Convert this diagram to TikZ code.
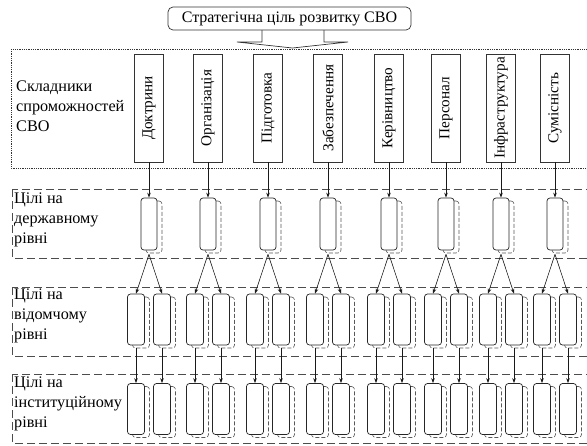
\documentclass[tikz,border=0pt]{standalone}
\usepackage{fontspec}
\setmainfont{Liberation Serif}
\usetikzlibrary{calc,shadows,arrows.meta}
\begin{document}
\begin{tikzpicture}[x=1pt,y=-1pt,
  goalbox/.style={draw=black!80, line width=0.7pt, rounded corners=5pt, minimum width=243pt, minimum height=23pt, inner sep=0pt, font=\fontsize{16}{19}\selectfont},
  compbox/.style={draw=black!80, line width=0.8pt, fill=white, minimum width=29pt, minimum height=108pt, inner sep=0pt, font=\fontsize{15.2}{18}\selectfont},
  goalshadow/.style={copy shadow={shadow xshift=5pt, shadow yshift=-3pt, draw=black!65, fill=white, dash pattern=on 4pt off 2pt, line width=0.6pt}},
  stbox/.style={draw=black!85, line width=0.7pt, fill=white, rounded corners=3pt, minimum width=16pt, minimum height=52pt, inner sep=0pt, goalshadow},
  smallbox/.style={draw=black!85, line width=0.7pt, fill=white, rounded corners=3pt, minimum width=17pt, minimum height=51pt, inner sep=0pt, goalshadow},
  lvllabel/.style={anchor=west, align=left, inner sep=0pt, font=\fontsize{16.2}{19.8}\selectfont},
  region/.style={draw=black!70, line width=0.9pt, dash pattern=on 8pt off 4pt},
  dotregion/.style={draw=black!80, line width=0.8pt, densely dotted},
  arr/.style={-{Stealth[length=5pt,width=3.5pt]}, line width=0.6pt, draw=black!90},
  blockarrow/.style={draw=black!80, line width=0.7pt}
]
\useasboundingbox (0,0) rectangle (587,445);
\clip (0,0) rectangle (587,445);

% regions
\draw[dotregion] (11,49) rectangle (600,168);
\draw[region] (12,189) rectangle (600,258);
\draw[region] (12,287) rectangle (600,356);
\draw[region] (12,374) rectangle (600,443);

% level labels
\node[lvllabel] (l1) at (16,106) {Складники\\спроможностей\\СВО};
\node[lvllabel] (l2) at (14,220) {Цілі на\\державному\\рівні};
\node[lvllabel] (l3) at (14,316) {Цілі на\\відомчому\\рівні};
\node[lvllabel] (l4) at (14,404) {Цілі на\\інституційному\\рівні};

% goal
\node[goalbox] (goal) at (289.5,18.5) {Стратегічна ціль розвитку СВО};
\coordinate (ba1) at (262,30);
\coordinate (ba2) at (262,42);
\coordinate (ba3) at (237,42);
\coordinate (batip) at (292.5,48);
\coordinate (ba4) at (348,42);
\coordinate (ba5) at (324,42);
\coordinate (ba6) at (324,30);
\draw[blockarrow] (ba1) -- (ba2) -- (ba3) -- (batip) -- (ba4) -- (ba5) -- (ba6);

\foreach \i/\x/\t in {1/149/Доктрини, 2/208/Організація, 3/268/Підготовка, 4/328/Забезпечення, 5/389/Керівництво, 6/446/Персонал, 7/501/Інфраструктура, 8/555/Сумісність}{
  \node[compbox] (c\i) at (\x,108) {\rotatebox{90}{\t}};
  \node[stbox] (s\i) at (\x,224) {};
  \node[smallbox] (d\i-a) at (\x-13,319.5) {};
  \node[smallbox] (d\i-b) at (\x+13,319.5) {};
  \node[smallbox] (n\i-a) at (\x-13,409) {};
  \node[smallbox] (n\i-b) at (\x+13,409) {};
  \draw[arr] (c\i) -- (s\i);
  \coordinate (o\i) at ($(s\i.south)+(0,4)$);
  \draw[arr] (o\i) -- (d\i-a.north);
  \draw[arr] (o\i) -- (d\i-b.north);
  \coordinate (oa\i) at ($(d\i-a.south)+(0,3)$);
  \coordinate (ob\i) at ($(d\i-b.south)+(0,3)$);
  \draw[arr] (oa\i) -- (n\i-a.north);
  \draw[arr] (ob\i) -- (n\i-b.north);
}
\end{tikzpicture}
\end{document}
